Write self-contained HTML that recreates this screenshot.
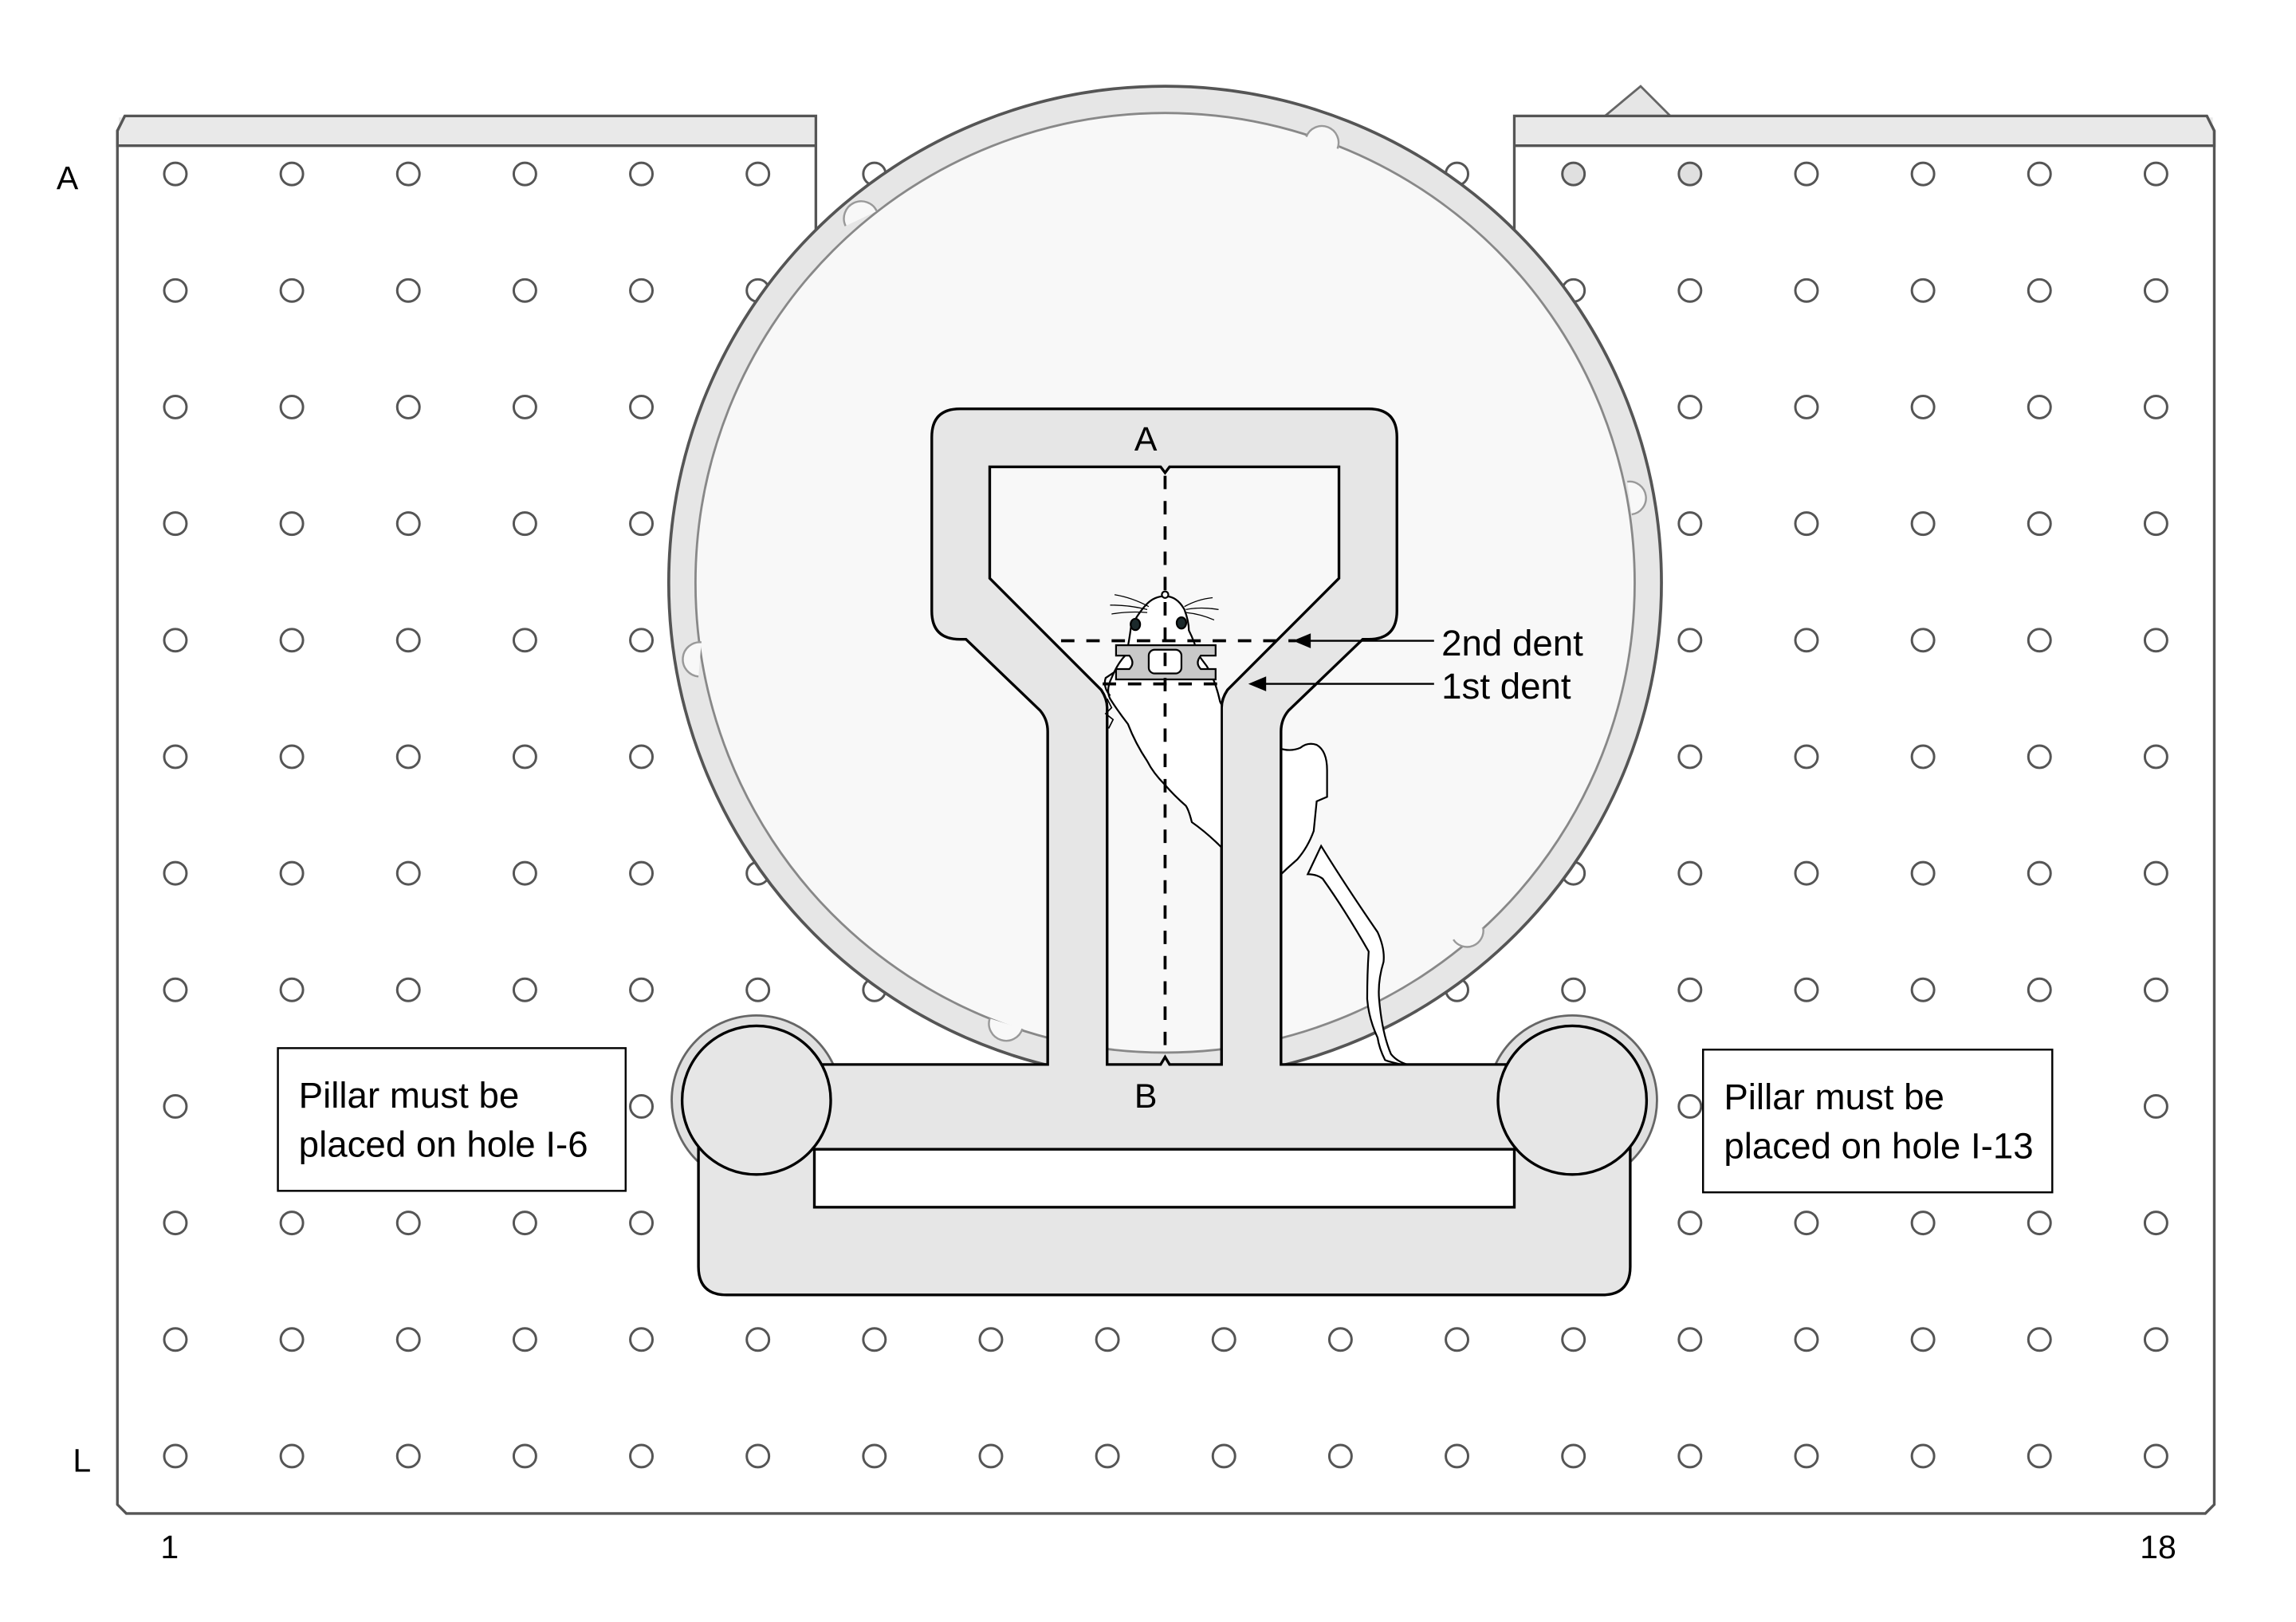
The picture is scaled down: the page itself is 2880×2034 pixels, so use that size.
<!DOCTYPE html>
<html><head><meta charset="utf-8">
<style>
html,body{margin:0;padding:0;background:#fff;}
svg{display:block;}
text{font-family:"Liberation Sans",sans-serif;fill:#000;}
</style></head>
<body>
<svg id="fig" width="2880" height="2034" viewBox="0 0 1545 1091" preserveAspectRatio="none" xmlns="http://www.w3.org/2000/svg">
  <rect width="1545" height="1091" fill="#fff"/>
  <polygon points="1080,78 1104,58 1124,78" fill="#e6e6e6" stroke="#666" stroke-width="1.5"/>
  <path d="M79,88 L84,78 L549,78 L549,400 L1019,400 L1019,78 L1485,78 L1490,88 L1490,1012 L1484,1018 L85,1018 L79,1012 Z" fill="#fff" stroke="#555" stroke-width="1.8"/>
  <rect x="80" y="79" width="468" height="19" fill="#e9e9e9"/>
  <path d="M84,78 L79,88 L79,98 L549,98" fill="none" stroke="#555" stroke-width="1.8"/>
  <rect x="1020" y="79" width="469" height="19" fill="#e9e9e9"/>
  <path d="M1019,98 L1490,98 L1490,88 L1485,78" fill="none" stroke="#555" stroke-width="1.8"/>
  <g id="holes"></g>

  <circle cx="784" cy="392" r="334" fill="#e6e6e6" stroke="#555" stroke-width="2"/>
  <circle cx="784" cy="392" r="316" fill="#f8f8f8" stroke="#888" stroke-width="1.5"/>
  <g fill="#f8f8f8" stroke="#999" stroke-width="1.3">
    <path d="M569,152 A11,11 0 0 1 590,142"/>
    <path d="M879,92 A11,11 0 0 1 900,100"/>
    <path d="M1095,324 A11,11 0 0 1 1098,346"/>
    <path d="M472,432 A11,11 0 0 0 470,455"/>
    <path d="M666,685 A11,11 0 0 0 688,692"/>
    <path d="M978,632 A11,11 0 0 0 998,624"/>
  </g>

  <circle cx="509" cy="740" r="57" fill="#e0e0e0" stroke="#666" stroke-width="1.5"/>
  <circle cx="1058" cy="740" r="57" fill="#e0e0e0" stroke="#666" stroke-width="1.5"/>

  <path d="M470,760 L1097,760 L1097,852 Q1097,871 1078,871 L489,871 Q470,871 470,852 Z" fill="#e6e6e6" stroke="#000" stroke-width="1.8"/>
  <rect x="548" y="770" width="471" height="42" fill="#fff" stroke="#000" stroke-width="1.8"/>

  <!-- mouse hind part and tail (outside stem, under frame) -->
  <g stroke="#000" stroke-width="1.2" fill="#fff">
    <path d="M860,503 Q868,506 875,503 Q880,499 886,501 Q893,505 893,518 L893,536 L886,539 L884,559 Q880,570 873,578 Q866,584 860,590 Z"/>
    <path d="M889,569 Q905,595 927,627 Q932,638 931,647 Q927,660 928,672 Q930,695 936,709 Q940,714 947,716 L943,716 Q934,714 932,713 Q928,705 927,698 Q921,685 920,672 Q920,655 921,640 Q905,612 890,591 Q886,588 880,588 Z"/>
  </g>

  <path fill="#e6e6e6" stroke="#000" stroke-width="1.8" fill-rule="evenodd"
    d="M646,275 L921,275 Q940,275 940,294 L940,411 Q940,430 921,430 L917,430 L867,478 Q862,484 862,492 L862,716 L1040,716 L1040,773 L530,773 L530,716 L705,716 L705,492 Q705,484 700,478 L650,430 L646,430 Q627,430 627,411 L627,294 Q627,275 646,275 Z
       M666,314 L781,314 L784,318 L787,314 L901,314 L901,389 L826,464 Q822,470 822,476 L822,716 L787,716 L784,711 L781,716 L745,716 L745,476 Q745,470 741,464 L666,389 Z"/>
  <circle cx="509" cy="740" r="50" fill="#e6e6e6" stroke="#000" stroke-width="1.8"/>
  <circle cx="1058" cy="740" r="50" fill="#e6e6e6" stroke="#000" stroke-width="1.8"/>

  <!-- mouse body -->
  <g stroke="#000" stroke-width="1.2" fill="#fff">
    <path d="M784,401 Q792,401 797,410 Q800,418 800,424 Q804,432 806,440 L812,448 Q818,458 821,472 L822,474 L822,570 Q812,560 802,553 Q800,545 798,542 Q790,535 784,528 Q776,520 772,512 Q764,500 759,487 Q752,478 747,470 Q744,464 748,456 Q752,446 758,440 Q760,430 761,422 Q766,412 772,406 Q777,401 784,401 Z"/>
    <path d="M747,468 Q742,462 744,456 L750,452" fill="none"/>
    <path d="M745,470 L748,476 L744,480 L749,484 L746,490" fill="none" stroke-width="0.9"/>
    <ellipse cx="764" cy="420" rx="3.2" ry="3.8" fill="#1c2a2c"/>
    <ellipse cx="795" cy="419" rx="3.2" ry="3.8" fill="#1c2a2c"/>
    <circle cx="784" cy="400" r="2.2" fill="#fff"/>
    <path d="M773,408 Q762,402 750,400 M772,410 Q760,407 747,407 M772,412 Q760,411 748,413 M797,408 Q806,403 816,402 M798,410 Q808,408 820,410 M798,412 Q808,413 817,417" fill="none" stroke-width="0.7"/>
  </g>
  <path d="M751,434 L818,434 L818,441 L808,441 Q804,446 808,450 L818,450 L818,457 L751,457 L751,450 L760,450 Q764,446 760,441 L751,441 Z" fill="#c8c8c8" stroke="#000" stroke-width="1.2"/>
  <rect x="773" y="437" width="22" height="16" rx="4" fill="#fff" stroke="#000" stroke-width="1.2"/>

  <line x1="784" y1="320" x2="784" y2="712" stroke="#000" stroke-width="2" stroke-dasharray="9,8"/>
  <line x1="714" y1="431" x2="872" y2="431" stroke="#000" stroke-width="2" stroke-dasharray="9,8"/>
  <line x1="742" y1="460" x2="826" y2="460" stroke="#000" stroke-width="2" stroke-dasharray="9,8"/>
  <line x1="965" y1="431" x2="880" y2="431" stroke="#000" stroke-width="1.3"/>
  <polygon points="870,431 882,426 882,436" fill="#000"/>
  <line x1="965" y1="460" x2="850" y2="460" stroke="#000" stroke-width="1.3"/>
  <polygon points="840,460 852,455 852,465" fill="#000"/>
  <text x="970" y="441" font-size="24.5">2nd dent</text>
  <text x="970" y="470" font-size="24.5">1st dent</text>
  <text x="771" y="303" font-size="23" text-anchor="middle">A</text>
  <text x="771" y="745" font-size="23" text-anchor="middle">B</text>

  <rect x="187" y="705" width="234" height="96" fill="#fff" stroke="#000" stroke-width="1.3"/>
  <text font-size="24.5"><tspan x="201" y="745">Pillar must be</tspan><tspan x="201" y="778">placed on hole I-6</tspan></text>
  <rect x="1146" y="706" width="235" height="96" fill="#fff" stroke="#000" stroke-width="1.3"/>
  <text font-size="24.5"><tspan x="1160" y="746">Pillar must be</tspan><tspan x="1160" y="779">placed on hole I-13</tspan></text>

  <text x="38" y="127" font-size="22">A</text>
  <text x="49" y="990" font-size="22">L</text>
  <text x="108" y="1048" font-size="22">1</text>
  <text x="1440" y="1048" font-size="22">18</text>
</svg>
<script>
const holeColumns = [118,196.4,274.8,353.2,431.6,510,588.4,666.8,745.2,823.6,902,980.4,1058.8,1137.2,1215.6,1294,1372.4,1450.8];
const holeRows = [117,195.4,273.8,352.2,430.6,509,587.4,665.8,744.2,822.6,901,979.4];
const shadedHoles = [[0,12],[0,13]];
const g = document.getElementById('holes');
const NS = 'http://www.w3.org/2000/svg';
holeRows.forEach((y, r) => {
  holeColumns.forEach((x, c) => {
    const el = document.createElementNS(NS, 'circle');
    el.setAttribute('cx', x);
    el.setAttribute('cy', y);
    el.setAttribute('r', 7.5);
    const shaded = shadedHoles.some(p => p[0] === r && p[1] === c);
    el.setAttribute('fill', shaded ? '#e0e0e0' : '#fff');
    el.setAttribute('stroke', '#555');
    el.setAttribute('stroke-width', '1.6');
    
    
    g.appendChild(el);
  });
});
</script>
</body></html>
